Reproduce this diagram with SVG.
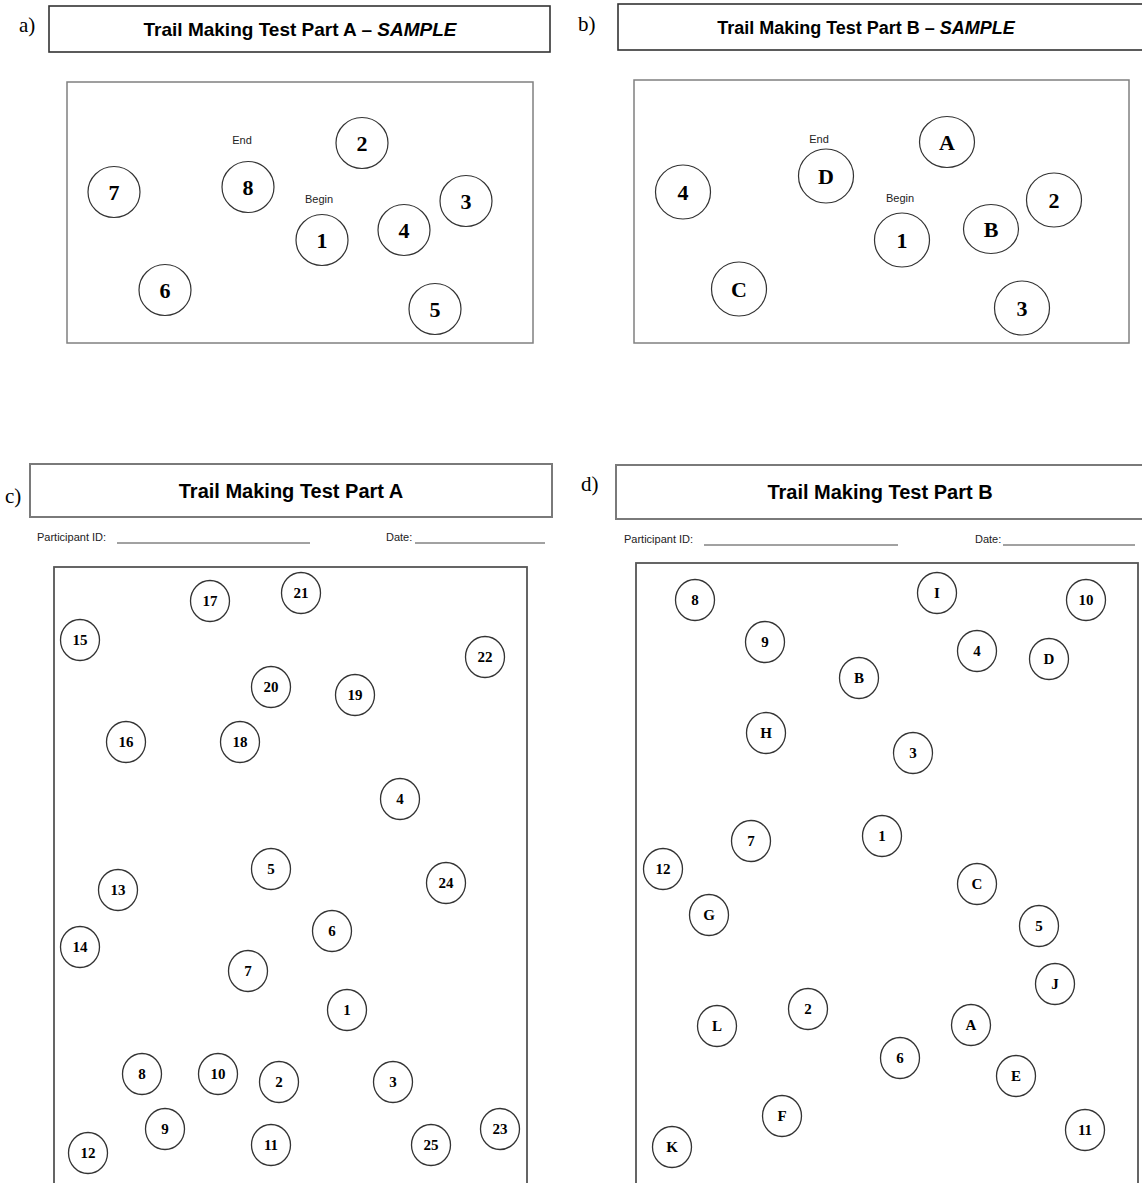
<svg xmlns="http://www.w3.org/2000/svg" width="1142" height="1183" viewBox="0 0 1142 1183">
<style>
.bg{fill:#ffffff}
.tbox{fill:#ffffff;stroke:#333333;stroke-width:1.6}
.tbox2{fill:#ffffff;stroke:#7a7a7a;stroke-width:2}
.frame{fill:#ffffff;stroke:#808080;stroke-width:1.5}
.frame2{fill:#ffffff;stroke:#555555;stroke-width:1.8}
.lbl{font-family:"Liberation Serif",serif;font-size:21px;fill:#000}
.title{font-family:"Liberation Sans",Arial,sans-serif;font-weight:bold;font-size:19px;fill:#000;text-anchor:middle}
.title2{font-family:"Liberation Sans",Arial,sans-serif;font-weight:bold;font-size:20px;fill:#000;text-anchor:middle}
.small{font-family:"Liberation Sans",Arial,sans-serif;font-size:11px;fill:#222}
.ln{stroke:#444;stroke-width:1}
.cb ellipse,.cb use{fill:#ffffff;stroke:#333;stroke-width:1.2}
.cb text{font-family:"Liberation Serif",serif;font-weight:bold;font-size:22px;fill:#000;text-anchor:middle}
.cs use{fill:#ffffff;stroke:#333;stroke-width:1.3}
.cs text{font-family:"Liberation Serif",serif;font-weight:bold;font-size:15px;fill:#000;text-anchor:middle}
</style>
<defs>
<ellipse id="big" cx="0" cy="0" rx="26" ry="25.5"/>
<ellipse id="sm" cx="0" cy="0" rx="19.5" ry="20.5"/>
</defs>
<rect class="bg" x="0" y="0" width="1142" height="1183"/>

<!-- Panel a -->
<g id="panel-a">
<text class="lbl" x="19" y="32">a)</text>
<rect class="tbox" x="49" y="6" width="501" height="46"/>
<text class="title" x="300" y="36">Trail Making Test Part A – <tspan font-style="italic">SAMPLE</tspan></text>
<rect class="frame" x="67" y="82" width="466" height="261"/>
<text class="small" x="242" y="144" text-anchor="middle">End</text>
<text class="small" x="319" y="203" text-anchor="middle">Begin</text>
</g>
<g id="a-7" class="cb" transform="translate(114,192)"><use href="#big"/><text y="7.5">7</text></g>
<g id="a-8" class="cb" transform="translate(248,187)"><use href="#big"/><text y="7.5">8</text></g>
<g id="a-2" class="cb" transform="translate(362,143)"><use href="#big"/><text y="7.5">2</text></g>
<g id="a-1" class="cb" transform="translate(322,240)"><use href="#big"/><text y="7.5">1</text></g>
<g id="a-4" class="cb" transform="translate(404,230)"><use href="#big"/><text y="7.5">4</text></g>
<g id="a-3" class="cb" transform="translate(466,201)"><use href="#big"/><text y="7.5">3</text></g>
<g id="a-6" class="cb" transform="translate(165,290)"><use href="#big"/><text y="7.5">6</text></g>
<g id="a-5" class="cb" transform="translate(435,309)"><use href="#big"/><text y="7.5">5</text></g>

<!-- Panel b -->
<g id="panel-b">
<text class="lbl" x="578" y="31">b)</text>
<rect class="tbox" x="618" y="4" width="525" height="46"/>
<text class="title" x="866" y="34" style="font-size:18px">Trail Making Test Part B – <tspan font-style="italic">SAMPLE</tspan></text>
<rect class="frame" x="634" y="80" width="495" height="263"/>
<text class="small" x="819" y="143" text-anchor="middle">End</text>
<text class="small" x="900" y="202" text-anchor="middle">Begin</text>
</g>
<g id="b-4" class="cb" transform="translate(683,192)"><ellipse rx="27.5" ry="27"/><text y="7.5">4</text></g>
<g id="b-D" class="cb" transform="translate(826,176)"><ellipse rx="27.5" ry="27"/><text y="7.5">D</text></g>
<g id="b-A" class="cb" transform="translate(947,142)"><ellipse rx="27.5" ry="25.5"/><text y="7.5">A</text></g>
<g id="b-1" class="cb" transform="translate(902,240)"><ellipse rx="27.5" ry="27"/><text y="7.5">1</text></g>
<g id="b-B" class="cb" transform="translate(991,229)"><ellipse rx="27.5" ry="24.5"/><text y="7.5">B</text></g>
<g id="b-2" class="cb" transform="translate(1054,200)"><ellipse rx="27.5" ry="27"/><text y="7.5">2</text></g>
<g id="b-C" class="cb" transform="translate(739,289)"><ellipse rx="27.5" ry="27"/><text y="7.5">C</text></g>
<g id="b-3" class="cb" transform="translate(1022,308)"><ellipse rx="27.5" ry="27"/><text y="7.5">3</text></g>

<!-- Panel c -->
<g id="panel-c">
<text class="lbl" x="5" y="503">c)</text>
<rect class="tbox2" x="30" y="464" width="522" height="53"/>
<text class="title2" x="291" y="498">Trail Making Test Part A</text>
<text class="small" x="37" y="541">Participant ID:</text>
<line class="ln" x1="117" y1="543" x2="310" y2="543"/>
<text class="small" x="386" y="541">Date:</text>
<line class="ln" x1="415" y1="543" x2="545" y2="543"/>
<rect class="frame2" x="54" y="567" width="473" height="620"/>
</g>
<g id="c-17" class="cs" transform="translate(210,601)"><use href="#sm"/><text y="5">17</text></g>
<g id="c-21" class="cs" transform="translate(301,593)"><use href="#sm"/><text y="5">21</text></g>
<g id="c-15" class="cs" transform="translate(80,640)"><use href="#sm"/><text y="5">15</text></g>
<g id="c-22" class="cs" transform="translate(485,657)"><use href="#sm"/><text y="5">22</text></g>
<g id="c-20" class="cs" transform="translate(271,687)"><use href="#sm"/><text y="5">20</text></g>
<g id="c-19" class="cs" transform="translate(355,695)"><use href="#sm"/><text y="5">19</text></g>
<g id="c-16" class="cs" transform="translate(126,742)"><use href="#sm"/><text y="5">16</text></g>
<g id="c-18" class="cs" transform="translate(240,742)"><use href="#sm"/><text y="5">18</text></g>
<g id="c-4" class="cs" transform="translate(400,799)"><use href="#sm"/><text y="5">4</text></g>
<g id="c-5" class="cs" transform="translate(271,869)"><use href="#sm"/><text y="5">5</text></g>
<g id="c-24" class="cs" transform="translate(446,883)"><use href="#sm"/><text y="5">24</text></g>
<g id="c-13" class="cs" transform="translate(118,890)"><use href="#sm"/><text y="5">13</text></g>
<g id="c-14" class="cs" transform="translate(80,947)"><use href="#sm"/><text y="5">14</text></g>
<g id="c-6" class="cs" transform="translate(332,931)"><use href="#sm"/><text y="5">6</text></g>
<g id="c-7" class="cs" transform="translate(248,971)"><use href="#sm"/><text y="5">7</text></g>
<g id="c-1" class="cs" transform="translate(347,1010)"><use href="#sm"/><text y="5">1</text></g>
<g id="c-8" class="cs" transform="translate(142,1074)"><use href="#sm"/><text y="5">8</text></g>
<g id="c-10" class="cs" transform="translate(218,1074)"><use href="#sm"/><text y="5">10</text></g>
<g id="c-2" class="cs" transform="translate(279,1082)"><use href="#sm"/><text y="5">2</text></g>
<g id="c-3" class="cs" transform="translate(393,1082)"><use href="#sm"/><text y="5">3</text></g>
<g id="c-9" class="cs" transform="translate(165,1129)"><use href="#sm"/><text y="5">9</text></g>
<g id="c-11" class="cs" transform="translate(271,1145)"><use href="#sm"/><text y="5">11</text></g>
<g id="c-25" class="cs" transform="translate(431,1145)"><use href="#sm"/><text y="5">25</text></g>
<g id="c-23" class="cs" transform="translate(500,1129)"><use href="#sm"/><text y="5">23</text></g>
<g id="c-12" class="cs" transform="translate(88,1153)"><use href="#sm"/><text y="5">12</text></g>

<!-- Panel d -->
<g id="panel-d">
<text class="lbl" x="581" y="491">d)</text>
<rect class="tbox2" x="616" y="465" width="530" height="54"/>
<text class="title2" x="880" y="499">Trail Making Test Part B</text>
<text class="small" x="624" y="543">Participant ID:</text>
<line class="ln" x1="704" y1="545" x2="898" y2="545"/>
<text class="small" x="975" y="543">Date:</text>
<line class="ln" x1="1003" y1="545" x2="1135" y2="545"/>
<rect class="frame2" x="636" y="563" width="502" height="624"/>
</g>
<g id="d-8" class="cs" transform="translate(695,600)"><use href="#sm"/><text y="5">8</text></g>
<g id="d-I" class="cs" transform="translate(937,593)"><use href="#sm"/><text y="5">I</text></g>
<g id="d-10" class="cs" transform="translate(1086,600)"><use href="#sm"/><text y="5">10</text></g>
<g id="d-9" class="cs" transform="translate(765,642)"><use href="#sm"/><text y="5">9</text></g>
<g id="d-4" class="cs" transform="translate(977,651)"><use href="#sm"/><text y="5">4</text></g>
<g id="d-D" class="cs" transform="translate(1049,659)"><use href="#sm"/><text y="5">D</text></g>
<g id="d-B" class="cs" transform="translate(859,678)"><use href="#sm"/><text y="5">B</text></g>
<g id="d-H" class="cs" transform="translate(766,733)"><use href="#sm"/><text y="5">H</text></g>
<g id="d-3" class="cs" transform="translate(913,753)"><use href="#sm"/><text y="5">3</text></g>
<g id="d-7" class="cs" transform="translate(751,841)"><use href="#sm"/><text y="5">7</text></g>
<g id="d-1" class="cs" transform="translate(882,836)"><use href="#sm"/><text y="5">1</text></g>
<g id="d-12" class="cs" transform="translate(663,869)"><use href="#sm"/><text y="5">12</text></g>
<g id="d-C" class="cs" transform="translate(977,884)"><use href="#sm"/><text y="5">C</text></g>
<g id="d-G" class="cs" transform="translate(709,915)"><use href="#sm"/><text y="5">G</text></g>
<g id="d-5" class="cs" transform="translate(1039,926)"><use href="#sm"/><text y="5">5</text></g>
<g id="d-J" class="cs" transform="translate(1055,984)"><use href="#sm"/><text y="5">J</text></g>
<g id="d-2" class="cs" transform="translate(808,1009)"><use href="#sm"/><text y="5">2</text></g>
<g id="d-L" class="cs" transform="translate(717,1026)"><use href="#sm"/><text y="5">L</text></g>
<g id="d-A" class="cs" transform="translate(971,1025)"><use href="#sm"/><text y="5">A</text></g>
<g id="d-6" class="cs" transform="translate(900,1058)"><use href="#sm"/><text y="5">6</text></g>
<g id="d-E" class="cs" transform="translate(1016,1076)"><use href="#sm"/><text y="5">E</text></g>
<g id="d-F" class="cs" transform="translate(782,1116)"><use href="#sm"/><text y="5">F</text></g>
<g id="d-11" class="cs" transform="translate(1085,1130)"><use href="#sm"/><text y="5">11</text></g>
<g id="d-K" class="cs" transform="translate(672,1147)"><use href="#sm"/><text y="5">K</text></g>

<g id="connectors"></g>
</svg>
